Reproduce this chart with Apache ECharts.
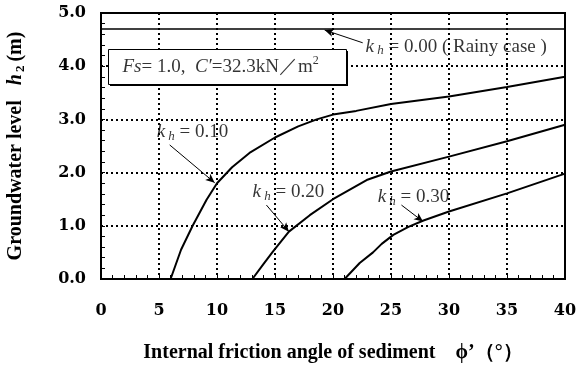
<!DOCTYPE html>
<html>
<head>
<meta charset="utf-8">
<script src="https://cdn.jsdelivr.net/npm/echarts@6/dist/echarts.min.js"></script>
<style>
  html, body { margin: 0; padding: 0; background: #fff; }
  #main { width: 576px; height: 372px; }
</style>
</head>
<body>
<div id="main"></div>
<script>
var serif = "Liberation Serif";
var wide = "DejaVu Serif";

// curves: [phi, h2]
var kh000 = [[0, 4.7], [40, 4.7]];
var kh010 = [[6.0, 0], [6.9, 0.55], [7.9, 1.0], [9.1, 1.49], [10, 1.8], [11.3, 2.1], [12.8, 2.37], [15, 2.66], [17, 2.87], [18.6, 3.0], [20, 3.09], [22, 3.16], [25, 3.29], [30, 3.43], [35, 3.61], [40, 3.8]];
var kh020 = [[13.05, 0], [14, 0.28], [14.8, 0.51], [16.2, 0.89], [18, 1.2], [20, 1.5], [22.9, 1.86], [25, 2.02], [30, 2.3], [35, 2.59], [40, 2.9]];
var kh030 = [[21.0, 0], [22.3, 0.3], [23.45, 0.5], [24.2, 0.66], [25.2, 0.83], [26.5, 0.98], [27.8, 1.1], [30, 1.27], [35, 1.61], [40, 1.98]];

// annotation text anchors (left edge, middle) and arrows [from, to]
var noteLabels = ["0.00 ( Rainy case )", "0.10", "0.20", "0.30"];
var notePos = [[22.8, 4.37], [4.8, 2.77], [13.07, 1.64], [23.85, 1.54]];
var arrows = [
  [[22.56, 4.44], [19.28, 4.68]],
  [[5.92, 2.52], [9.8, 1.81]],
  [[14.26, 1.39], [16.2, 0.89]],
  [[25.9, 1.39], [27.76, 1.08]]
];
var boxTextPos = [1.85, 3.99];

var myChart = echarts.init(document.getElementById("main"));

function curve(data) {
  return {
    type: "line",
    data: data,
    symbol: "none",
    lineStyle: { color: "#000", width: 2 },
    z: 3
  };
}

var noteRich = {
  k: { fontFamily: serif, fontStyle: "italic", fontSize: 19, color: "#000", lineHeight: 22 },
  h: { fontFamily: serif, fontStyle: "italic", fontSize: 13, color: "#000", verticalAlign: "bottom", lineHeight: 15 },
  t: { fontFamily: serif, fontSize: 19, color: "#000", lineHeight: 22 }
};

option = {
  animation: false,
  grid: {
    left: 101,
    right: 11,
    top: 13,
    bottom: 93,
    outerBoundsMode: "none",
    containLabel: false,
    show: true,
    borderColor: "#000",
    borderWidth: 2,
    backgroundColor: "transparent"
  },
  xAxis: {
    type: "value",
    min: 0,
    max: 40,
    interval: 5,
    name: "Internal friction angle of sediment\u3000\u03d5\u2019\uff08\u00b0\uff09",
    nameLocation: "middle",
    nameGap: 64,
    nameTextStyle: { fontFamily: serif, fontWeight: "bold", fontSize: 20, color: "#000" },
    axisLine: { lineStyle: { color: "#000", width: 2 } },
    axisTick: { show: true, inside: true, length: 4, lineStyle: { color: "#000", width: 1 } },
    minorTick: { show: true, splitNumber: 5, length: 4, lineStyle: { color: "#000", width: 1 } },
    axisLabel: { fontFamily: wide, fontWeight: "bold", fontSize: 16, color: "#000", margin: 24 },
    splitLine: { show: true, lineStyle: { color: "#000", type: [2, 3], width: 2 } }
  },
  yAxis: {
    type: "value",
    min: 0,
    max: 5,
    interval: 1,
    name: "{b|Groundwater level   }{h|h}{s|2}{b|(m)}",
    nameLocation: "middle",
    nameGap: 74,
    nameTextStyle: {
      rich: {
        b: { fontFamily: serif, fontWeight: "bold", fontSize: 20, color: "#000", lineHeight: 22 },
        h: { fontFamily: serif, fontWeight: "bold", fontStyle: "italic", fontSize: 20, color: "#000", lineHeight: 22 },
        s: { fontFamily: serif, fontWeight: "bold", fontSize: 13, color: "#000", verticalAlign: "bottom", lineHeight: 15, padding: [0, 4, 0, 2] }
      }
    },
    axisLine: { lineStyle: { color: "#000", width: 2 } },
    axisTick: { show: true, inside: true, length: 4, lineStyle: { color: "#000", width: 1 } },
    minorTick: { show: true, splitNumber: 5, length: 4, lineStyle: { color: "#000", width: 1 } },
    axisLabel: {
      fontFamily: wide, fontWeight: "bold", fontSize: 16, color: "#000", margin: 15,
      formatter: function (v) { return v.toFixed(1); }
    },
    splitLine: { show: true, lineStyle: { color: "#000", type: [2, 3], width: 2 } }
  },
  series: [
    {
      type: "line",
      data: kh000,
      symbol: "none",
      lineStyle: { color: "#000", width: 1.5 },
      z: 3
    },
    curve(kh010),
    curve(kh020),
    curve(kh030),
    {
      type: "scatter",
      symbolSize: 0,
      z: 5,
      data: notePos.map(function (p, i) {
        return { value: p, name: noteLabels[i] };
      }),
      label: {
        show: true,
        position: "right",
        distance: 0,
        formatter: function (p) { return "{k|k}{h| h}{t| = " + p.name + "}"; },
        rich: noteRich
      },
      markLine: {
        silent: true,
        symbol: ["none", "arrow"],
        symbolSize: [6, 9],
        label: { show: false },
        lineStyle: { color: "#000", width: 1, type: "solid" },
        data: arrows.map(function (a) {
          return [{ coord: a[0] }, { coord: a[1] }];
        })
      }
    },
    {
      // text of the condition box
      type: "scatter",
      symbolSize: 0,
      z: 200,
      data: [boxTextPos],
      label: {
        show: true,
        position: "right",
        distance: 0,
        formatter: "{i|Fs}{t|= 1.0,  }{i|C\u2032}{t|=32.3kN\uff0fm}{p|2}",
        rich: {
          i: { fontFamily: serif, fontStyle: "italic", fontSize: 19, color: "#000", lineHeight: 23 },
          t: { fontFamily: serif, fontSize: 19, color: "#000", lineHeight: 23 },
          p: { fontFamily: serif, fontSize: 12, color: "#000", verticalAlign: "top", lineHeight: 15 }
        }
      }
    }
  ],
  graphic: [
    { type: "rect", left: 110, top: 51, z: 100, shape: { width: 238, height: 35 }, style: { fill: "#000" } },
    { type: "rect", left: 108, top: 49, z: 101, shape: { width: 238, height: 35 }, style: { fill: "#fff", stroke: "#000", lineWidth: 1 } }
  ]
};
myChart.setOption(option);
</script>
</body>
</html>
